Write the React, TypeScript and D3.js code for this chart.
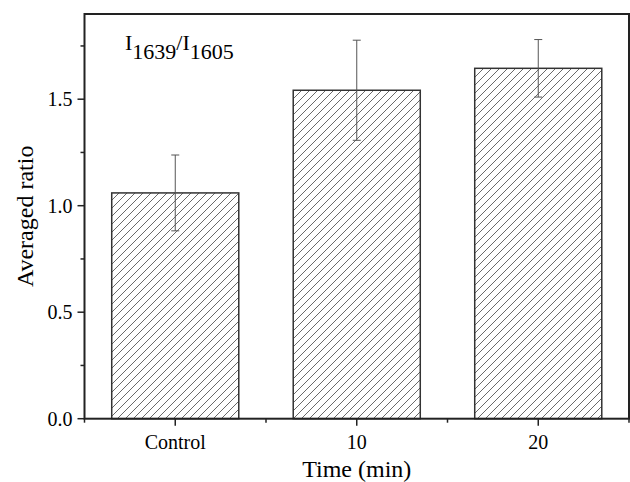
import React, { useRef, useEffect } from 'react';
import * as d3 from 'd3';

const categories = ['Control', '10', '20'];
const ratios = [1.06, 1.542, 1.645];
const errors = [0.178, 0.235, 0.135];
const yTicks = [0, 0.5, 1.0, 1.5];
const yMinorTicks = [0.25, 0.75, 1.25, 1.75];

const W = 630;
const H = 482;
const FONT = '"Liberation Serif", "Times New Roman", serif';

const App = () => {
  const gRef = useRef<SVGGElement>(null);

  useEffect(() => {
    draw();
  }, []);

  const draw = () => {
    const g = d3.select(gRef.current);
    g.selectAll('*').remove();

    const left = 84.5, right = 629, top = 14, bottom = 418.7;

    const x = d3.scaleBand<string>()
      .domain(categories)
      .range([left, right])
      .paddingInner(0.3)
      .paddingOuter(0.15);

    const y = d3.scaleLinear().domain([0, 1.9]).range([bottom, top]);

    const step = x.step();
    const center = (c: string) => (x(c) as number) + x.bandwidth() / 2;

    // hatch pattern for the bars
    const defs = g.append('defs');
    const pat = defs.append('pattern')
      .attr('id', 'hatch')
      .attr('patternUnits', 'userSpaceOnUse')
      .attr('width', 8)
      .attr('height', 8);
    pat.append('path')
      .attr('d', 'M-2,2 l4,-4 M0,8 l8,-8 M6,10 l4,-4')
      .attr('stroke', '#444')
      .attr('stroke-width', 0.8);

    // bars
    g.selectAll('rect.bar')
      .data(categories)
      .enter()
      .append('rect')
      .attr('class', 'bar')
      .attr('x', d => x(d) as number)
      .attr('y', (d, i) => y(ratios[i]))
      .attr('width', x.bandwidth())
      .attr('height', (d, i) => y(0) - y(ratios[i]))
      .attr('fill', 'url(#hatch)')
      .attr('stroke', '#333')
      .attr('stroke-width', 1.5);

    // error bars
    const eb = g.selectAll('g.err')
      .data(categories)
      .enter()
      .append('g')
      .attr('class', 'err')
      .attr('stroke', '#555')
      .attr('stroke-width', 1);
    eb.append('line')
      .attr('x1', d => center(d)).attr('x2', d => center(d))
      .attr('y1', (d, i) => y(ratios[i] + errors[i]))
      .attr('y2', (d, i) => y(ratios[i] - errors[i]));
    eb.append('line')
      .attr('x1', d => center(d) - 4).attr('x2', d => center(d) + 4)
      .attr('y1', (d, i) => y(ratios[i] + errors[i]))
      .attr('y2', (d, i) => y(ratios[i] + errors[i]));
    eb.append('line')
      .attr('x1', d => center(d) - 4).attr('x2', d => center(d) + 4)
      .attr('y1', (d, i) => y(ratios[i] - errors[i]))
      .attr('y2', (d, i) => y(ratios[i] - errors[i]));

    // frame
    g.append('rect')
      .attr('x', left).attr('y', top)
      .attr('width', right - left).attr('height', bottom - top)
      .attr('fill', 'none')
      .attr('stroke', '#222')
      .attr('stroke-width', 2);

    // y axis ticks
    g.selectAll('line.ymaj')
      .data(yTicks).enter().append('line')
      .attr('x1', left - 7).attr('x2', left)
      .attr('y1', d => y(d)).attr('y2', d => y(d))
      .attr('stroke', '#222').attr('stroke-width', 1.5);
    g.selectAll('line.ymin')
      .data(yMinorTicks).enter().append('line')
      .attr('x1', left - 4).attr('x2', left)
      .attr('y1', d => y(d)).attr('y2', d => y(d))
      .attr('stroke', '#222').attr('stroke-width', 1.5);
    g.selectAll('text.ylab')
      .data(yTicks).enter().append('text')
      .attr('x', left - 12)
      .attr('y', d => y(d))
      .attr('dy', '0.34em')
      .attr('text-anchor', 'end')
      .style('font-family', FONT)
      .style('font-size', '20px')
      .text(d => d3.format('.1f')(d));

    // x axis ticks
    g.selectAll('line.xmaj')
      .data(categories).enter().append('line')
      .attr('x1', d => center(d)).attr('x2', d => center(d))
      .attr('y1', bottom).attr('y2', bottom + 7)
      .attr('stroke', '#222').attr('stroke-width', 1.5);
    const minorX = [left, left + step, left + 2 * step, left + 3 * step];
    g.selectAll('line.xmin')
      .data(minorX).enter().append('line')
      .attr('x1', d => d).attr('x2', d => d)
      .attr('y1', bottom).attr('y2', bottom + 4)
      .attr('stroke', '#222').attr('stroke-width', 1.5);
    g.selectAll('text.xlab')
      .data(categories).enter().append('text')
      .attr('x', d => center(d))
      .attr('y', 449)
      .attr('text-anchor', 'middle')
      .style('font-family', FONT)
      .style('font-size', '20px')
      .text(d => d);

    // axis titles
    g.append('text')
      .attr('x', (left + right) / 2)
      .attr('y', 477)
      .attr('text-anchor', 'middle')
      .style('font-family', FONT)
      .style('font-size', '24px')
      .text('Time (min)');

    g.append('text')
      .attr('text-anchor', 'middle')
      .attr('transform', 'translate(33,' + (bottom + top) / 2 + ')rotate(-90)')
      .style('font-family', FONT)
      .style('font-size', '24px')
      .text('Averaged ratio');

    // annotation
    const ann = g.append('text')
      .attr('x', 125)
      .attr('y', 50)
      .style('font-family', FONT)
      .style('font-size', '22px');
    ann.append('tspan').text('I');
    ann.append('tspan').attr('dy', 9).style('font-size', '22px').text('1639');
    ann.append('tspan').attr('dy', -9).text('/I');
    ann.append('tspan').attr('dy', 9).style('font-size', '22px').text('1605');
  };

  return (
    <svg width={W} height={H} style={{ position: 'absolute', left: 0, top: 0, background: '#fff' }}>
      <g ref={gRef} />
    </svg>
  );
};

export default App;
